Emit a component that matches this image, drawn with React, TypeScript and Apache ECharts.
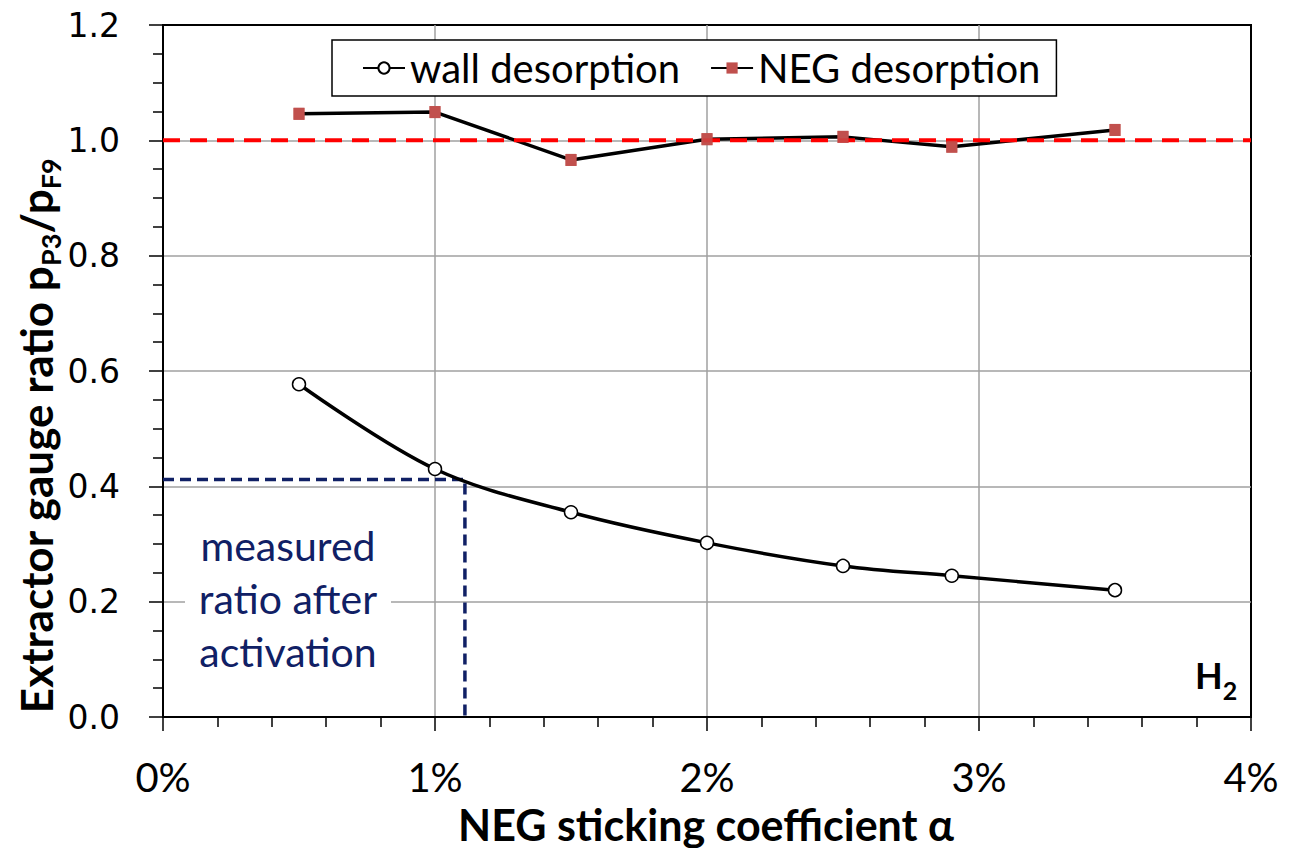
import React, { useEffect, useRef } from "react";
import * as echarts from "echarts";

// ---- data ----
const alphaPct = [0.5, 1.0, 1.5, 2.0, 2.5, 2.9, 3.5];
const wallRatio = [0.577, 0.43, 0.355, 0.302, 0.262, 0.245, 0.22];
const negRatio = [1.046, 1.049, 0.966, 1.002, 1.006, 0.989, 1.018];
const refRatio = 1.0;
const measuredRatio = 0.412;
const measuredAlpha = 1.11;
const xRange = [0, 4];
const yRange = [0, 1.2];
const seriesNames = ["wall desorption", "NEG desorption"];
const noteLines = ["measured", "ratio after", "activation"];

const NAVY = "#102065";
const FONT = "Lato";

export default function App() {
  const ref = useRef<HTMLDivElement>(null);
  useEffect(() => {
    if (!ref.current) return;
    const chart = echarts.init(ref.current, undefined, { renderer: "svg" });
    const wallData = alphaPct.map((x, i) => [x, wallRatio[i]]);
    const negData = alphaPct.map((x, i) => [x, negRatio[i]]);
    const gridLeft = 163, gridTop = 25, gridRight = 45, gridBottom = 131;
    const option: any = {
      animation: false,
      backgroundColor: "#fff",
      grid: {
        left: gridLeft, right: gridRight, top: gridTop, bottom: gridBottom,
        show: true, borderColor: "#000", borderWidth: 2, backgroundColor: "transparent",
      },
      legend: {
        data: seriesNames,
        left: 332, top: 40,
        padding: [6, 16, 6, 30],
        itemGap: 30, itemWidth: 42, itemHeight: 14,
        borderColor: "#000", borderWidth: 1.5, backgroundColor: "#fff",
        textStyle: { fontFamily: FONT, fontSize: 40, color: "#000", lineHeight: 44 },
      },
      xAxis: {
        type: "value", min: xRange[0], max: xRange[1], interval: 1,
        axisLine: { show: true, onZero: false, lineStyle: { color: "#000", width: 2 } },
        axisTick: { show: true, length: 14, lineStyle: { color: "#000", width: 1.5 } },
        minorTick: { show: true, splitNumber: 5, length: 10, lineStyle: { color: "#000", width: 1.5 } },
        splitLine: { show: true, showMinLine: false, showMaxLine: false, lineStyle: { color: "#a0a0a0", width: 1.5 } },
        axisLabel: {
          formatter: (v: number) => `${v}%`, margin: 40,
          fontFamily: FONT, fontSize: 40, lineHeight: 40, color: "#000",
        },
      },
      yAxis: {
        type: "value", min: yRange[0], max: yRange[1], interval: 0.2,
        axisLine: { show: true, onZero: false, lineStyle: { color: "#000", width: 2 } },
        axisTick: { show: true, length: 14, lineStyle: { color: "#000", width: 1.5 } },
        minorTick: { show: true, splitNumber: 4, length: 10, lineStyle: { color: "#000", width: 1.5 } },
        splitLine: { show: true, showMinLine: false, showMaxLine: false, lineStyle: { color: "#a0a0a0", width: 1.5 } },
        axisLabel: {
          formatter: (v: number) => v.toFixed(1), margin: 43,
          fontFamily: "DejaVu Sans", fontSize: 33, color: "#000",
        },
      },
      graphic: [
        {
          type: "rect", z: 1,
          shape: { x: 185, y: 515, width: 206, height: 170 },
          style: { fill: "#fff" },
        },
        ...noteLines.map((t, i) => ({
          type: "text", z: 5,
          x: 288, y: 545 + i * 53,
          style: {
            text: t, fill: NAVY, fontFamily: FONT, fontSize: 41,
            align: "center", verticalAlign: "middle",
          },
        })),
        {
          type: "text", z: 5, x: 1195, y: 675,
          style: {
            text: "{h|H}{s|2}", align: "left", verticalAlign: "middle",
            rich: {
              h: { fontFamily: FONT, fontWeight: "bold", fontSize: 36, lineHeight: 54, color: "#000", verticalAlign: "middle" },
              s: { fontFamily: FONT, fontWeight: "bold", fontSize: 25, lineHeight: 20, color: "#000", verticalAlign: "bottom" },
            },
          },
        },
        {
          type: "text", z: 5, x: 36, y: 436, rotation: Math.PI / 2,
          style: {
            text: "{m|Extractor gauge ratio p}{s|P3}{m|/p}{s|F9}",
            align: "center", verticalAlign: "middle",
            rich: {
              m: { fontFamily: FONT, fontWeight: "bold", fontSize: 44, lineHeight: 56, color: "#000", verticalAlign: "middle" },
              s: { fontFamily: FONT, fontWeight: "bold", fontSize: 27, lineHeight: 24, color: "#000", verticalAlign: "bottom" },
            },
          },
        },
        {
          type: "text", z: 5, x: 706, y: 824,
          style: {
            text: "NEG sticking coefficient \u03b1", fill: "#000",
            fontFamily: FONT, fontWeight: "bold", fontSize: 43,
            align: "center", verticalAlign: "middle",
          },
        },
      ],
      series: [
        {
          name: "measured", type: "line", z: 2,
          data: [[xRange[0], measuredRatio], [measuredAlpha, measuredRatio], [measuredAlpha, 0]],
          showSymbol: false, symbol: "none",
          lineStyle: { color: NAVY, width: 3.5, type: [11, 6] },
          silent: true,
        },
        {
          name: seriesNames[0], type: "line", z: 3,
          data: wallData, smooth: 0.35,
          symbol: "circle", symbolSize: 13,
          itemStyle: { color: "#fff", borderColor: "#000", borderWidth: 1.5 },
          lineStyle: { color: "#000", width: 3.5 },
        },
        {
          name: seriesNames[1], type: "line", z: 3,
          data: negData,
          symbol: "rect", symbolSize: [11, 12],
          itemStyle: { color: "#c0504d" },
          lineStyle: { color: "#000", width: 3.5 },
        },
        {
          name: "ref", type: "line", z: 4,
          data: [[xRange[0], refRatio], [xRange[1], refRatio]],
          showSymbol: false, symbol: "none",
          lineStyle: { color: "#ff0000", width: 4, type: [17, 10] },
          silent: true,
        },
        {
          name: "negMarks", type: "scatter", z: 5,
          data: negData, symbol: "rect", symbolSize: [11, 12],
          itemStyle: { color: "#c0504d" },
          silent: true,
        },
      ],
    };
    chart.setOption(option);
    return () => chart.dispose();
  }, []);
  return <div ref={ref} style={{ width: 1296, height: 848, position: "absolute", left: 0, top: 0 }} />;
}
